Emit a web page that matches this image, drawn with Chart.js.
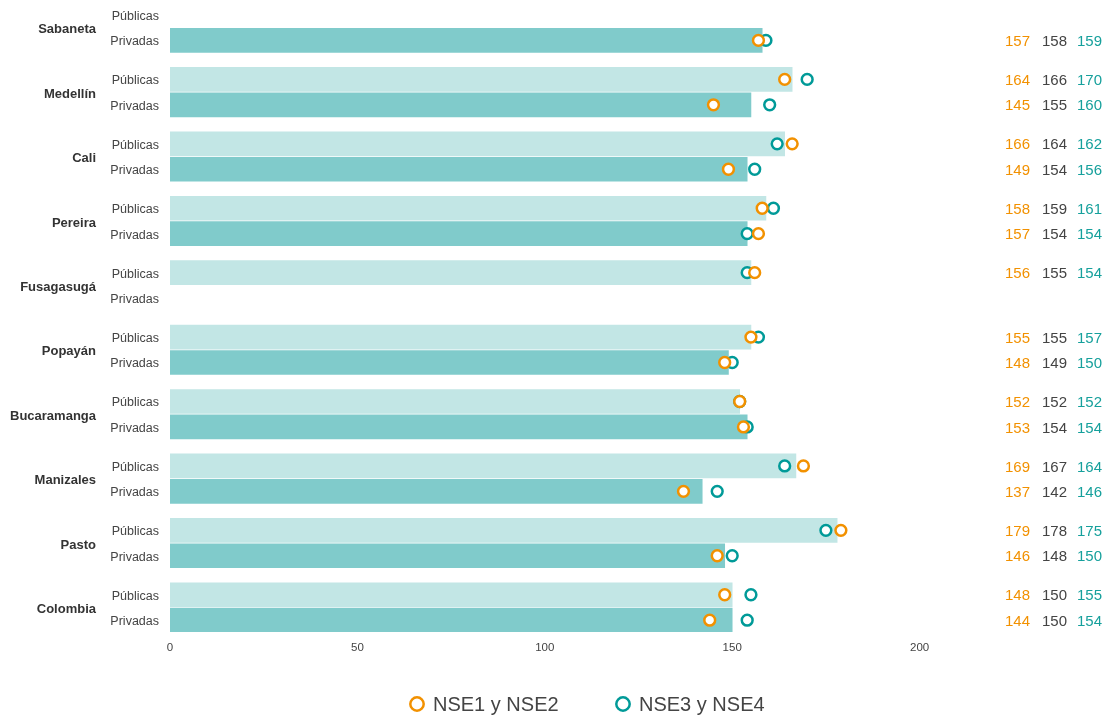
<!DOCTYPE html>
<html>
<head>
<meta charset="utf-8">
<script src="https://cdn.jsdelivr.net/npm/chart.js@4"></script>
<style>
  body { margin: 0; background: #fff; }
  #wrap { width: 1107px; height: 719px; position: relative; }
</style>
</head>
<body>
<div id="wrap"><canvas id="chart"></canvas></div>
<script>
// Data
const cities = ['Sabaneta', 'Medellín', 'Cali', 'Pereira', 'Fusagasugá', 'Popayán', 'Bucaramanga', 'Manizales', 'Pasto', 'Colombia'];
const rowNames = ['Públicas', 'Privadas'];
const publicasTotal = [null, 166, 164, 159, 155, 155, 152, 167, 178, 150];
const privadasTotal = [158, 155, 154, 154, null, 149, 154, 142, 148, 150];
const publicasNse12 = [null, 164, 166, 158, 156, 155, 152, 169, 179, 148];
const publicasNse34 = [null, 170, 162, 161, 154, 157, 152, 164, 175, 155];
const privadasNse12 = [157, 145, 149, 157, null, 148, 153, 137, 146, 144];
const privadasNse34 = [159, 160, 156, 154, null, 150, 154, 146, 150, 154];
const xTicks = [0, 50, 100, 150, 200];
const legendLabels = ['NSE1 y NSE2', 'NSE3 y NSE4'];

const FONT = '"Liberation Sans", Arial, Helvetica, sans-serif';
const ORANGE = '#F29100';
const TEAL = '#009A98';
const TEAL_TEXT = '#16A09C';
const GRAY = '#444444';
const GROUP_STEP = 2.535; // a city takes two rows plus a small gap

// y position of a row on the linear index axis
function rowPos(cityIdx, rowIdx) {
    return cityIdx * GROUP_STEP + rowIdx;
}

function points(values, rowIdx) {
    const out = [];
    values.forEach((v, i) => {
        if (v !== null) out.push({ x: v, y: rowPos(i, rowIdx) });
    });
    return out;
}

const rowTicks = [];
const rowTickLabels = [];
cities.forEach((c, i) => {
    rowNames.forEach((r, j) => {
        rowTicks.push(rowPos(i, j));
        rowTickLabels.push(r);
    });
});

const pointStyle = {
    pointRadius: 5.4,
    pointHoverRadius: 5.4,
    pointBorderWidth: 2.5,
    pointBackgroundColor: '#ffffff'
};

// City names, value columns and legend
const extrasPlugin = {
    id: 'extras',
    afterDraw(chart) {
        const ctx = chart.ctx;
        const y = chart.scales.y;
        ctx.save();

        ctx.font = 'bold 13px ' + FONT;
        ctx.fillStyle = '#333333';
        ctx.textAlign = 'right';
        ctx.textBaseline = 'middle';
        cities.forEach((c, i) => {
            ctx.fillText(c, 96, y.getPixelForValue(rowPos(i, 0.5)) + 2);
        });

        ctx.font = '15px ' + FONT;
        ctx.textAlign = 'left';
        const rows = [
            [publicasNse12, publicasTotal, publicasNse34],
            [privadasNse12, privadasTotal, privadasNse34]
        ];
        const cols = [[1005, ORANGE], [1042, GRAY], [1077, TEAL_TEXT]];
        cities.forEach((c, i) => {
            rows.forEach((set, j) => {
                if (set[1][i] === null) return;
                const py = y.getPixelForValue(rowPos(i, j)) + 1.5;
                set.forEach((arr, k) => {
                    ctx.fillStyle = cols[k][1];
                    ctx.fillText(String(arr[i]), cols[k][0], py);
                });
            });
        });

        // legend
        const legendItems = [[417, ORANGE], [623, TEAL]];
        ctx.font = '20px ' + FONT;
        legendItems.forEach((it, k) => {
            ctx.beginPath();
            ctx.arc(it[0], 704, 6.7, 0, Math.PI * 2);
            ctx.fillStyle = '#ffffff';
            ctx.fill();
            ctx.lineWidth = 2.5;
            ctx.strokeStyle = it[1];
            ctx.stroke();
            ctx.fillStyle = GRAY;
            ctx.fillText(legendLabels[k], it[0] + 16, 705);
        });
        ctx.restore();
    }
};

const ctx = document.getElementById('chart').getContext('2d');
new Chart(ctx, {
    type: 'bar',
    data: {
        datasets: [
            {
                type: 'scatter',
                label: legendLabels[0],
                data: points(publicasNse12, 0).concat(points(privadasNse12, 1)),
                borderColor: ORANGE,
                backgroundColor: '#ffffff',
                order: 0,
                ...pointStyle
            },
            {
                type: 'scatter',
                label: legendLabels[1],
                data: points(publicasNse34, 0).concat(points(privadasNse34, 1)),
                borderColor: TEAL,
                backgroundColor: '#ffffff',
                order: 1,
                ...pointStyle
            },
            {
                label: 'Públicas',
                data: points(publicasTotal, 0),
                backgroundColor: '#C2E6E5',
                barThickness: 24,
                grouped: false,
                order: 2
            },
            {
                label: 'Privadas',
                data: points(privadasTotal, 1),
                backgroundColor: '#80CBCB',
                barThickness: 24,
                grouped: false,
                order: 2
            }
        ]
    },
    options: {
        indexAxis: 'y',
        responsive: true,
        maintainAspectRatio: false,
        animation: false,
        events: [],
        layout: { padding: 0, autoPadding: false },
        plugins: {
            legend: { display: false },
            tooltip: { enabled: false }
        },
        scales: {
            x: {
                type: 'linear',
                min: 0,
                max: 250,
                grid: { display: false, drawTicks: false },
                border: { display: false },
                afterBuildTicks: scale => {
                    scale.ticks = xTicks.map(v => ({ value: v }));
                },
                afterFit: scale => {
                    scale.height = 87;
                    scale.paddingLeft = 0;
                    scale.paddingRight = 0;
                },
                ticks: {
                    padding: 9,
                    color: GRAY,
                    font: { family: FONT, size: 11.5 }
                }
            },
            y: {
                type: 'linear',
                reverse: true,
                offset: false,
                min: -0.59,
                max: 24.28,
                grid: { display: false, drawTicks: false, offset: false },
                border: { display: false },
                afterBuildTicks: scale => {
                    scale.ticks = rowTicks.map(v => ({ value: v }));
                },
                afterFit: scale => {
                    scale.width = 170;
                    scale.paddingTop = 0;
                    scale.paddingBottom = 0;
                },
                ticks: {
                    autoSkip: false,
                    padding: 11,
                    labelOffset: 1.5,
                    color: GRAY,
                    font: { family: FONT, size: 12.5 },
                    callback: (value, index) => rowTickLabels[index]
                }
            }
        }
    },
    plugins: [extrasPlugin]
});
</script>
</body>
</html>
